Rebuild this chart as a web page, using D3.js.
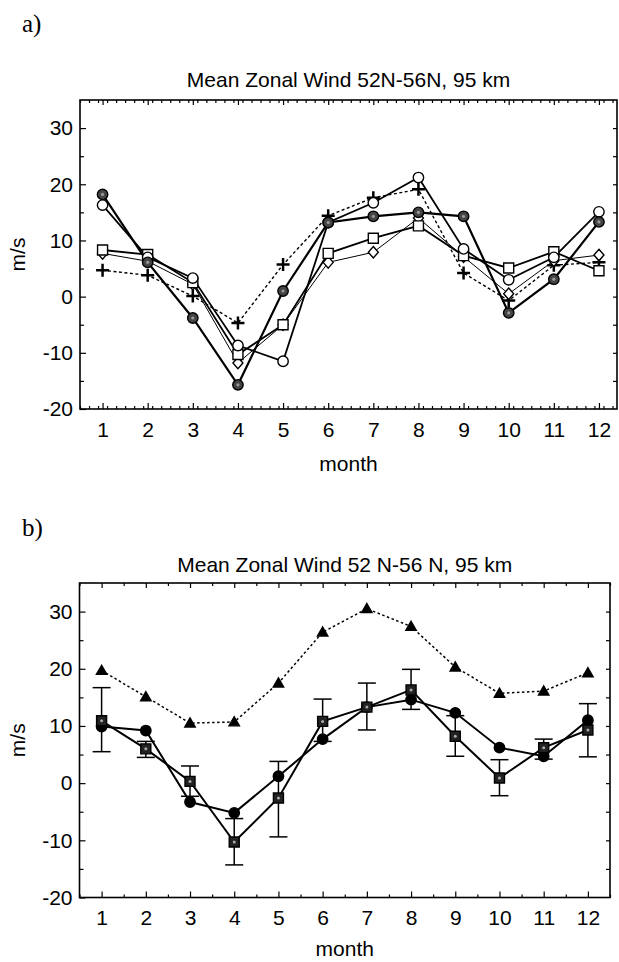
<!DOCTYPE html>
<html>
<head>
<meta charset="utf-8">
<script src="https://cdnjs.cloudflare.com/ajax/libs/d3/7.8.4/d3.min.js"></script>
<style>
  body { margin: 0; background: #fff; }
  svg { display: block; }
</style>
</head>
<body>
<div id="chart"></div>
<script>
// Data (m/s, months 1..12)
const months = [1, 2, 3, 4, 5, 6, 7, 8, 9, 10, 11, 12];
const yTickValues = [-20, -10, 0, 10, 20, 30];

// panel a : five stations / years
const aHatchedCircle = [18.2, 6.1, -3.8, -15.7, 1.0, 13.2, 14.3, 15.0, 14.3, -2.9, 3.1, 13.3];
const aOpenCircle = [16.3, 7.0, 3.3, -8.7, -11.5, 13.2, 16.7, 21.2, 8.5, 3.0, 7.0, 15.1];
const aOpenSquare = [8.3, 7.5, 2.5, -10.3, -5.0, 7.7, 10.4, 12.6, 7.3, 5.1, 8.0, 4.6];
const aDiamond = [7.7, 6.3, 2.2, -11.8, -5.0, 6.1, 7.9, 14.0, 7.1, 0.5, 6.4, 7.4];
const aPlus = [4.7, 3.8, 0.1, -4.7, 5.7, 14.4, 17.6, 19.1, 4.2, -0.7, 5.6, 6.1];

// panel b : means
const bTriangle = [19.7, 15.1, 10.5, 10.7, 17.5, 26.4, 30.5, 27.4, 20.3, 15.7, 16.1, 19.3];
const bCircle = [9.9, 9.2, -3.3, -5.2, 1.2, 7.7, 13.3, 14.6, 12.3, 6.2, 4.7, 11.0];
const bSquare = [10.9, 6.0, 0.3, -10.3, -2.6, 10.8, 13.3, 16.3, 8.2, 0.9, 6.2, 9.3];
const bSquareHigh = [16.7, 7.3, 3.0, -6.2, 3.8, 14.7, 17.5, 19.9, 11.8, 4.1, 7.7, 13.9];
const bSquareLow = [5.5, 4.5, -2.3, -14.3, -9.4, 7.3, 9.3, 12.9, 4.7, -2.2, 4.2, 4.6];

const W = 619, H = 962;
const FONT = "'Liberation Sans', Arial, sans-serif";

const svg = d3.select("#chart").append("svg")
  .attr("width", W).attr("height", H)
  .attr("viewBox", `0 0 ${W} ${H}`);

// marker shapes
const markerPath = {
  square: (s) => `M${-s},${-s}H${s}V${s}H${-s}Z`,
  diamond: (s) => `M0,${-s * 1.15}L${s},0L0,${s * 1.15}L${-s},0Z`,
  plus: (s) => `M${-s},0H${s}M0,${-s}V${s}`,
  triangle: (s) => `M0,${-s}L${s},${s * 0.75}L${-s},${s * 0.75}Z`
};

function drawPanel(cfg) {
  const g = svg.append("g");
  const x = d3.scaleLinear().domain(cfg.xDomain).range([cfg.left, cfg.right]);
  const y = d3.scaleLinear().domain([-20, 35]).range([cfg.bottom, cfg.top]);

  const minorX = d3.range(cfg.xDomain[0], cfg.xDomain[1] + 1e-9, cfg.minorStep)
    .filter((d) => Math.abs(d - Math.round(d)) > 1e-6);
  const fives = [-15, -5, 5, 15, 25];
  const noDomain = (sel) => sel.select(".domain").remove();
  const plain = (d) => String(d); // hyphen minus like the original

  // bottom axis
  g.append("g").attr("transform", `translate(0,${cfg.bottom})`)
    .call(d3.axisBottom(x).tickValues(minorX).tickSize(-3).tickFormat(""))
    .call(noDomain);
  const xb = g.append("g").attr("transform", `translate(0,${cfg.bottom})`)
    .call(d3.axisBottom(x).tickValues(months).tickSizeInner(-6).tickSizeOuter(0).tickPadding(13).tickFormat(plain))
    .call(noDomain);
  // top axis
  g.append("g").attr("transform", `translate(0,${cfg.top})`)
    .call(d3.axisTop(x).tickValues(minorX).tickSize(-3).tickFormat(""))
    .call(noDomain);
  g.append("g").attr("transform", `translate(0,${cfg.top})`)
    .call(d3.axisTop(x).tickValues(months).tickSize(-5).tickFormat(""))
    .call(noDomain);
  // left axis
  const yl = g.append("g").attr("transform", `translate(${cfg.left},0)`)
    .call(d3.axisLeft(y).tickValues(yTickValues).tickSizeInner(-6).tickSizeOuter(0).tickPadding(7).tickFormat(plain))
    .call(noDomain);
  g.append("g").attr("transform", `translate(${cfg.left},0)`)
    .call(d3.axisLeft(y).tickValues(fives).tickSize(-4).tickFormat(""))
    .call(noDomain);
  // right axis
  g.append("g").attr("transform", `translate(${cfg.right},0)`)
    .call(d3.axisRight(y).tickValues(fives.concat(yTickValues.slice(1))).tickSize(-4).tickFormat(""))
    .call(noDomain);

  [xb, yl].forEach((a) => a.selectAll("text")
    .attr("font-family", FONT).attr("font-size", 21).attr("fill", "#000"));
  g.selectAll(".tick line").attr("stroke", "#000").attr("stroke-width", 1.2);

  // frame
  g.append("rect")
    .attr("x", cfg.left).attr("y", cfg.top)
    .attr("width", cfg.right - cfg.left).attr("height", cfg.bottom - cfg.top)
    .attr("fill", "none").attr("stroke", "#000").attr("stroke-width", 1.6);

  // labels
  g.append("text").attr("x", 22).attr("y", cfg.letterY)
    .attr("font-family", "'Liberation Serif', 'Times New Roman', serif")
    .attr("font-size", 25).text(cfg.letter);
  g.append("text").attr("x", (cfg.left + cfg.right) / 2).attr("y", cfg.titleY)
    .attr("text-anchor", "middle").attr("font-family", FONT).attr("font-size", 21)
    .text(cfg.title);
  g.append("text").attr("x", (cfg.left + cfg.right) / 2).attr("y", cfg.bottom + cfg.monthDy)
    .attr("text-anchor", "middle").attr("font-family", FONT).attr("font-size", 21)
    .text("month");
  g.append("text")
    .attr("transform", `translate(25,${(cfg.top + cfg.bottom) / 2}) rotate(-90)`)
    .attr("text-anchor", "middle").attr("font-family", FONT).attr("font-size", 21)
    .text("m/s");

  // error bars
  (cfg.errors || []).forEach((e) => {
    const eg = g.append("g").attr("stroke", "#000").attr("stroke-width", 1.5);
    months.forEach((m, i) => {
      eg.append("line").attr("x1", x(m)).attr("x2", x(m))
        .attr("y1", y(e.high[i])).attr("y2", y(e.low[i]));
      [e.high[i], e.low[i]].forEach((v) => eg.append("line")
        .attr("x1", x(m) - 9).attr("x2", x(m) + 9)
        .attr("y1", y(v)).attr("y2", y(v)));
    });
  });

  // lines
  const line = d3.line().x((d) => x(d.m)).y((d) => y(d.v));
  cfg.series.forEach((s) => {
    const pts = months.map((m, i) => ({ m, v: s.values[i] }));
    g.append("path").datum(pts)
      .attr("fill", "none").attr("stroke", "#000")
      .attr("stroke-width", s.width)
      .attr("stroke-dasharray", s.dash || null)
      .attr("d", line);
  });

  // markers
  cfg.series.forEach((s) => {
    const pts = months.map((m, i) => ({ m, v: s.values[i] }));
    const mg = g.append("g");
    pts.forEach((p) => {
      const cx = x(p.m), cy = y(p.v);
      if (s.marker === "circle") {
        mg.append("circle").attr("cx", cx).attr("cy", cy).attr("r", s.r)
          .attr("fill", s.fill).attr("stroke", "#000").attr("stroke-width", 1.4);
        if (s.dot) mg.append("circle").attr("cx", cx).attr("cy", cy).attr("r", 1.6)
          .attr("fill", s.dot);
      } else {
        mg.append("path").attr("transform", `translate(${cx},${cy})`)
          .attr("d", markerPath[s.marker](s.r))
          .attr("fill", s.marker === "plus" ? "none" : s.fill)
          .attr("stroke", "#000")
          .attr("stroke-width", s.marker === "plus" ? 2.5 : 1.4);
        if (s.dot) mg.append("circle").attr("cx", cx).attr("cy", cy).attr("r", 1.5)
          .attr("fill", s.dot);
      }
    });
  });
}

drawPanel({
  letter: "a)", letterY: 32,
  title: "Mean Zonal Wind 52N-56N, 95 km", titleY: 87,
  left: 80, right: 617, top: 100, bottom: 409,
  xDomain: [0.5, 12.4], minorStep: 0.2, monthDy: 62,
  series: [
    { values: aPlus, marker: "plus", r: 6.5, width: 1.4, dash: "3,2.5" },
    { values: aDiamond, marker: "diamond", r: 5, fill: "#fff", width: 1 },
    { values: aOpenSquare, marker: "square", r: 5, fill: "#fff", width: 1.8 },
    { values: aOpenCircle, marker: "circle", r: 5.2, fill: "#fff", width: 1.8 },
    { values: aHatchedCircle, marker: "circle", r: 5.2, fill: "#444", dot: "#999", width: 2.2 }
  ]
});

drawPanel({
  letter: "b)", letterY: 536,
  title: "Mean Zonal Wind 52 N-56 N, 95 km", titleY: 572,
  left: 79.5, right: 610, top: 583, bottom: 897.5,
  xDomain: [0.5, 12.5], minorStep: 0.5, monthDy: 58,
  errors: [{ high: bSquareHigh, low: bSquareLow }],
  series: [
    { values: bTriangle, marker: "triangle", r: 5.2, fill: "#000", width: 1.5, dash: "2.5,2.5" },
    { values: bCircle, marker: "circle", r: 5.2, fill: "#000", width: 2 },
    { values: bSquare, marker: "square", r: 5, fill: "#222", dot: "#aaa", width: 2 }
  ]
});
</script>
</body>
</html>
